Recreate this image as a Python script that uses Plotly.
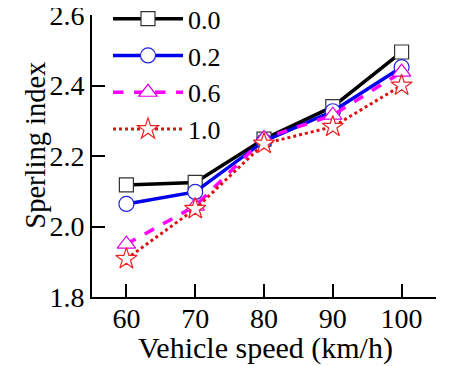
import plotly.graph_objects as go

speeds = [60, 70, 80, 90, 100]
s00 = [2.118, 2.125, 2.248, 2.340, 2.495]
s02 = [2.064, 2.098, 2.242, 2.327, 2.452]
s06 = [1.950, 2.058, 2.250, 2.316, 2.438]
s10 = [1.908, 2.050, 2.235, 2.283, 2.400]
names = ["0.0", "0.2", "0.6", "1.0"]
x_title = "Vehicle speed (km/h)"
y_title = "Sperling index"

FONT = "Liberation Serif, Times New Roman, serif"

series = [
    (s00, names[0], "#000000", "solid", 3.5, "square", "#333333", 14),
    (s02, names[1], "#0000ee", "solid", 3.5, "circle", "#2222dd", 15),
    (s06, names[2], "#ff00ff", "dash", 3.5, "triangle-up", "#dd00dd", 16),
    (s10, names[3], "#dd1111", "dot", 3, "star", "#ee2222", 16),
]

fig = go.Figure()
for i, (vals, nm, col, dash, w, sym, mcol, sz) in enumerate(series):
    fig.add_trace(go.Scatter(
        x=speeds, y=vals, name=nm, mode="lines+markers",
        legendgroup=nm,
        line=dict(color=col, width=w, dash=dash),
        marker=dict(symbol=sym, size=sz, color="white",
                    line=dict(color=mcol, width=1.2)),
    ))

# the page body has an 8px default margin; the figure is sized/margined to compensate
fig.update_layout(
    width=453, height=358,
    margin=dict(l=84, r=25, t=7, b=69, autoexpand=False),
    paper_bgcolor="white", plot_bgcolor="white",
    font=dict(family=FONT, size=28, color="black"),
    showlegend=True,
    legend=dict(x=0.0465, y=1.07, xanchor="left", yanchor="top",
                bgcolor="rgba(0,0,0,0)", font=dict(size=26),
                tracegroupgap=0, itemwidth=70),
    xaxis=dict(range=[55, 105], tickvals=speeds, showgrid=False, zeroline=False,
               showline=True, linecolor="black", linewidth=2,
               ticks="inside", ticklen=13, tickwidth=1.5, tickcolor="black",
               tickfont=dict(size=28), automargin=False, ticklabelstandoff=-5,
               ticklabeloverflow="allow"),
    yaxis=dict(range=[1.8, 2.6], dtick=0.2, tickformat=".1f", showgrid=False,
               zeroline=False, showline=True, linecolor="black", linewidth=2,
               ticks="inside", ticklen=13, tickwidth=1.5, tickcolor="black",
               tickfont=dict(size=28), automargin=False,
               ticklabeloverflow="allow"),
    annotations=[
        dict(text=x_title, xref="paper", yref="paper", x=0.503, y=-0.181,
             xanchor="center", yanchor="middle", showarrow=False,
             font=dict(size=30)),
        dict(text=y_title, xref="paper", yref="paper", x=-0.163, y=0.54,
             xanchor="center", yanchor="middle", showarrow=False, textangle=-90,
             font=dict(size=28.5)),
    ],
)

fig.write_html("out.html")
